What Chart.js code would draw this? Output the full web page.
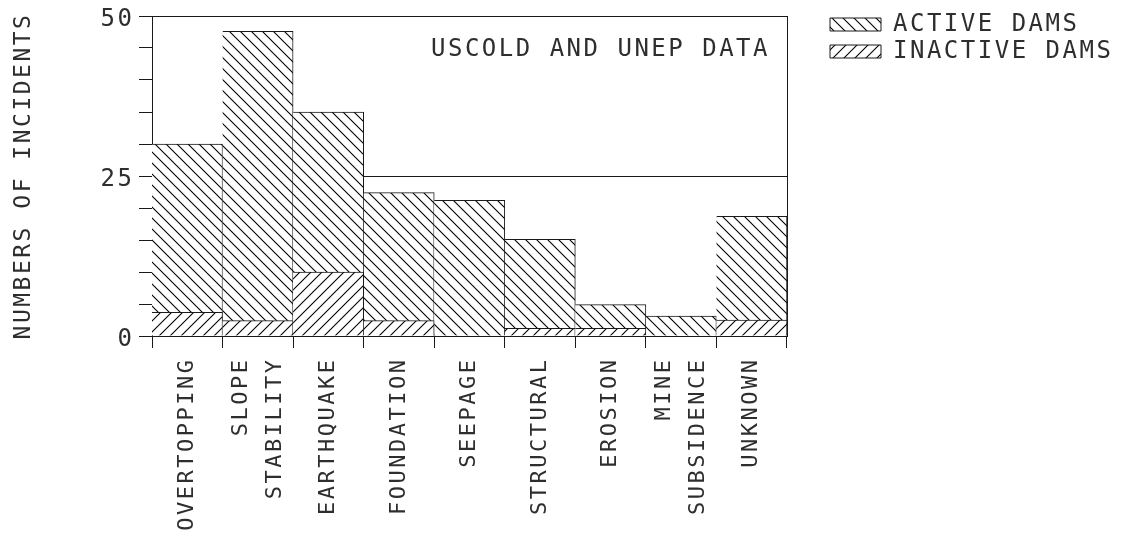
<!DOCTYPE html>
<html><head><meta charset="utf-8">
<script src="https://cdn.jsdelivr.net/npm/chart.js@4.4.1/dist/chart.umd.min.js"></script>
<style>html,body{margin:0;padding:0;background:#fff;}canvas{display:block;}</style>
</head><body>
<canvas id="c" width="1133" height="536"></canvas>
<script>
const categories = ['OVERTOPPING', ['SLOPE', 'STABILITY'], 'EARTHQUAKE', 'FOUNDATION', 'SEEPAGE', 'STRUCTURAL', 'EROSION', ['MINE', 'SUBSIDENCE'], 'UNKNOWN'];
const inactiveDams = [3.7, 2.4, 10, 2.4, 0, 1.2, 1.2, 0, 2.5];
const activeDams = [26.3, 45.2, 25, 20, 21.2, 13.9, 3.7, 3.1, 16.2];
const seriesNames = ['ACTIVE DAMS', 'INACTIVE DAMS'];
const yTickLabels = [0, 25, 50];
const yAxisTitle = 'NUMBERS OF INCIDENTS';
const noteText = 'USCOLD AND UNEP DATA';
const noteValue = 44.7;

const FONT = '"DejaVu Sans Mono", monospace';
const INK = '#1a1a1a';
const TEXT = '#2e2e2e';
const SPACING = '2.5px';
const LABEL_LH = 34;

const canvas = document.getElementById('c');
const mainCtx = canvas.getContext('2d');

function hatch(dir) {
  const s = 11;
  const c = document.createElement('canvas');
  c.width = s; c.height = s;
  const g = c.getContext('2d');
  g.fillStyle = '#fff'; g.fillRect(0, 0, s, s);
  g.strokeStyle = '#000'; g.lineWidth = 1.1;
  g.beginPath();
  for (const o of [-s, 0, s]) {
    if (dir === 'back') { g.moveTo(o - 1, -1); g.lineTo(o + s + 1, s + 1); }
    else { g.moveTo(o - 1, s + 1); g.lineTo(o + s + 1, -1); }
  }
  g.stroke();
  return mainCtx.createPattern(c, 'repeat');
}

const spacingPlugin = {
  id: 'spacing',
  beforeUpdate(chart) { chart.ctx.letterSpacing = SPACING; },
  beforeLayout(chart) {
    chart.ctx.letterSpacing = SPACING;
    const lg = chart.legend;
    if (lg && !lg._fixedWidth) {
      const orig = lg.fit.bind(lg);
      lg.fit = function () { orig(); this.width = 306; };
      lg._fixedWidth = true;
    }
  },
  beforeDraw(chart) { chart.ctx.letterSpacing = SPACING; }
};

const notePlugin = {
  id: 'note',
  afterDatasetsDraw(chart) {
    const { ctx, chartArea, scales } = chart;
    ctx.save();
    ctx.letterSpacing = SPACING;
    ctx.font = '24px ' + FONT;
    ctx.fillStyle = TEXT;
    ctx.textAlign = 'right';
    ctx.textBaseline = 'middle';
    ctx.fillText(noteText, chartArea.right - 17, scales.y.getPixelForValue(noteValue));
    ctx.restore();
  }
};

const barBorder = { top: 1, right: 1, bottom: 0, left: 0 };

new Chart(canvas, {
  type: 'bar',
  data: {
    labels: categories,
    datasets: [
      { label: seriesNames[1], data: inactiveDams, backgroundColor: hatch('fwd'), borderColor: INK, borderWidth: barBorder, borderSkipped: false, stack: 's' },
      { label: seriesNames[0], data: activeDams, backgroundColor: hatch('back'), borderColor: INK, borderWidth: barBorder, borderSkipped: false, stack: 's' }
    ]
  },
  options: {
    responsive: false,
    animation: false,
    devicePixelRatio: 1,
    events: [],
    barPercentage: 1,
    categoryPercentage: 1,
    layout: { padding: { top: 9.5, right: 0, bottom: 0, left: 0 } },
    plugins: {
      tooltip: { enabled: false },
      legend: {
        position: 'right',
        align: 'start',
        reverse: true,
        labels: {
          boxWidth: 51,
          boxHeight: 13,
          padding: 3,
          color: TEXT,
          font: { family: FONT, size: 24 },
          generateLabels(chart) {
            const items = Chart.defaults.plugins.legend.labels.generateLabels(chart);
            items.forEach(it => { it.lineWidth = 1; it.strokeStyle = INK; });
            return items;
          }
        }
      }
    },
    scales: {
      x: {
        stacked: true,
        offset: true,
        grid: { offset: true, drawOnChartArea: false, drawTicks: true, tickLength: 12, color: INK, lineWidth: 1 },
        border: { display: true, color: INK, width: 1 },
        ticks: {
          autoSkip: false, maxRotation: 90, minRotation: 90, padding: 9.5, color: TEXT,
          font: { family: FONT, size: 22, lineHeight: LABEL_LH / 22 },
          labelOffset: -LABEL_LH / 2,
          showLabelBackdrop: c => !Array.isArray(categories[c.index]),
          backdropColor: 'rgba(0,0,0,0)',
          backdropPadding: 0
        },
        afterFit(s) { s.height = 200; }
      },
      y: {
        stacked: true,
        min: 0,
        max: 50,
        ticks: {
          stepSize: 5, padding: 4.5, labelOffset: 4, color: TEXT,
          font: { family: FONT, size: 24, lineHeight: 23 / 24 },
          callback: v => yTickLabels.includes(v) ? String(v) : ''
        },
        grid: {
          color: c => (c.tick && (c.tick.value === 25 || c.tick.value === 50)) ? INK : 'rgba(0,0,0,0)',
          tickColor: INK, tickLength: 13, drawTicks: true, lineWidth: 1
        },
        border: { display: true, color: INK, width: 1 },
        title: { display: true, text: yAxisTitle, color: TEXT, font: { family: FONT, size: 23 }, padding: { top: 10, bottom: 0 } },
        afterFit(s) { s.width = 152; }
      },
      y2: {
        position: 'right',
        min: 0,
        max: 50,
        grid: { drawOnChartArea: false, drawTicks: false },
        ticks: { display: false },
        border: { display: true, color: INK, width: 1 },
        afterFit(s) { s.width = 40; }
      }
    }
  },
  plugins: [spacingPlugin, notePlugin]
});
</script>
</body></html>
